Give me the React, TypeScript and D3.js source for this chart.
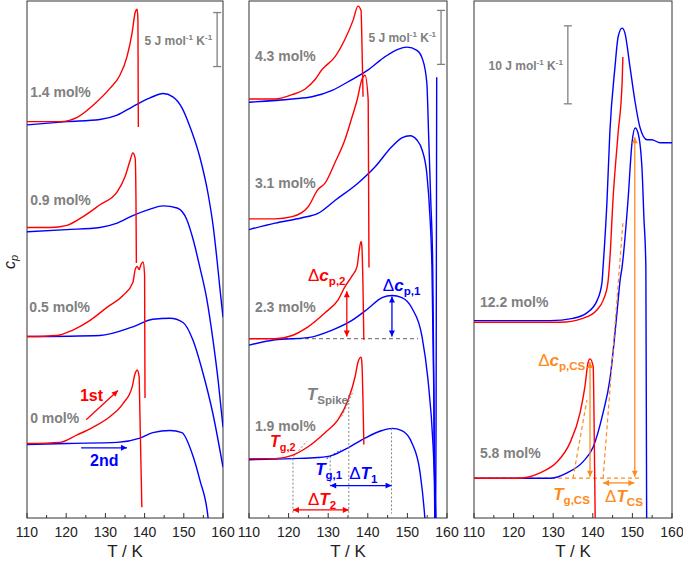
import React from 'react';
import * as d3 from 'd3';

type Pt = [number, number];

// ---------- axis ticks ----------
const majorTicks = [110, 120, 130, 140, 150, 160];
const minorTicks = [115, 125, 135, 145, 155];

// ---------- Panel 1 (cp, J mol-1 K-1, stacked) ----------
const p1Red14: Pt[] = [[110,36.7],[118.4,36.7],[122.8,37.1],[126.8,38.2],[131.2,39.8],[133.7,41.0],[135.5,42.7],[136.8,44.9],[137.6,46.8],[138.1,47.1],[138.3,46.1],[138.4,36.2]];
const p1Blue14: Pt[] = [[110,36.4],[120.2,36.7],[128.6,36.9],[133.0,37.3],[137.0,38.1],[141.4,38.9],[144.7,39.3],[147.2,39.0],[149.5,38.0],[151.6,36.2],[154.1,33.4],[156.2,30.0],[157.5,27.0],[158.5,23.8],[159.2,21.3],[160,18.6]];
const p1Red09: Pt[] = [[110,26.9],[115.9,26.9],[120.2,27.1],[124.3,27.9],[128.6,29.0],[133.0,30.2],[135.0,31.6],[136.3,33.1],[137.0,33.8],[137.6,33.3],[137.8,29.4],[137.9,23.6]];
const p1Blue09: Pt[] = [[110,26.5],[120.2,26.7],[128.6,26.9],[133.0,27.3],[137.0,28.0],[141.4,28.6],[144.7,28.9],[148.3,28.7],[150.8,27.6],[152.3,25.9],[154.1,23.2],[155.8,20.4],[157.4,16.6],[158.8,12.6],[160,8.4]];
const p1Red05: Pt[] = [[110,16.8],[117.7,16.9],[121.7,17.4],[126.1,18.3],[130.4,19.5],[134.5,20.6],[137.0,21.8],[137.6,23.0],[138.1,23.3],[138.6,23.0],[139.1,23.5],[139.6,23.7],[140.0,22.5],[140.1,11.1]];
const p1Blue05: Pt[] = [[110,16.8],[128.6,16.9],[137.0,17.7],[142.1,18.4],[146.5,18.5],[149.8,18.1],[152.3,16.5],[154.9,13.4],[157.4,9.7],[160,4.7]];
const p1Red00: Pt[] = [[110,6.9],[118.4,7.0],[122.8,7.7],[126.8,8.4],[131.2,9.4],[134.5,10.6],[136.8,12.1],[137.6,13.4],[138.1,13.7],[138.6,13.1],[138.8,9.7],[139.3,1.0]];
const p1Blue00: Pt[] = [[110,6.8],[120.2,6.9],[133.0,7.0],[138.8,7.4],[142.1,7.9],[146.5,8.1],[149.5,7.9],[152.1,6.0],[154.1,3.5],[156.2,0],[156.8,-3]];

// ---------- Panel 2 ----------
const p2Red43: Pt[] = [[110,38.8],[116.6,38.8],[120.9,39.2],[124.1,39.7],[126.7,40.6],[128.4,41.5],[129.2,41.8],[131.7,42.7],[134.2,44.3],[136.3,46.1],[137.5,47.4],[138.3,47.0],[138.5,44.3],[138.8,39.0]];
const p2Blue43: Pt[] = [[110,38.5],[120.9,38.8],[125.9,39.0],[131.0,39.6],[136.0,40.6],[140.1,41.5],[144.3,42.7],[147.6,43.4],[149.9,43.6],[152.4,43.3],[153.9,42.4],[154.9,40.3],[155.4,35.0],[155.9,29.4],[156.4,23.2],[156.7,11],[156.95,-2],[157.1,-3],[157.25,10],[157.4,40.8]];
const p2Red31: Pt[] = [[110,27.7],[116.6,27.7],[120.9,27.9],[124.9,28.8],[127.4,30.4],[129.2,31.0],[131.7,32.9],[134.2,35.0],[136.0,37.1],[137.3,38.7],[138.5,40.6],[139.3,41.0],[140.1,38.7],[140.3,23.2]];
const p2Blue31: Pt[] = [[110,26.7],[116.6,27.3],[123.4,27.8],[127.4,28.2],[131.7,29.4],[137.5,31.0],[141.8,32.5],[146.1,34.4],[148.6,35.2],[150.7,35.4],[152.4,35.0],[153.7,34.1],[154.9,31.9],[155.7,27.9],[156.2,23.2],[156.7,10.9],[157.0,-3]];
const p2Red23: Pt[] = [[110,16.6],[116.6,16.6],[120.9,16.9],[124.9,17.7],[129.2,19.0],[132.5,20.2],[134.2,21.4],[136.0,22.4],[137.3,23.3],[137.8,24.7],[138.3,25.6],[138.5,25.2],[138.8,21.1],[139.0,16.5]];
const p2Blue23: Pt[] = [[110,16.0],[116.6,16.5],[124.9,16.7],[131.0,17.4],[136.0,18.3],[140.1,19.4],[143.6,20.4],[146.1,20.6],[148.6,20.4],[151.2,19.4],[153.7,16.8],[155.2,12.8],[156.5,6.6],[157.2,0],[157.4,-3]];
const p2Red19: Pt[] = [[110,5.5],[116.6,5.5],[120.9,5.8],[124.9,6.6],[129.2,7.9],[132.5,9.1],[135.0,10.9],[136.8,13.1],[137.5,14.4],[138.3,14.9],[138.5,14.4],[139.0,6.8]];
const p2Blue19: Pt[] = [[110,5.4],[120.9,5.5],[127.4,5.6],[131.0,5.8],[135.0,6.5],[139.3,7.4],[143.6,8.1],[146.1,8.3],[148.6,8.1],[151.2,6.9],[153.2,4.2],[154.4,0],[154.9,-3]];

// ---------- Panel 3 ----------
const p3Blue122: Pt[] = [[110,25.3],[129.2,25.3],[135.0,25.6],[138.5,26.3],[141.1,27.9],[142.3,30.1],[142.6,32.2],[143.6,40.8],[144.3,49.4],[145.6,57.8],[146.4,61.7],[147.4,62.8],[148.1,62.2],[149.4,57.8],[150.6,53.6],[151.9,50.1],[153.7,48.5],[154.9,48.5],[157.0,48.1],[160,48.1]];
const p3Red122: Pt[] = [[110,25.1],[131.7,25.1],[137.5,25.6],[141.1,26.7],[142.6,27.9],[143.8,30.1],[144.3,33.1],[145.1,40.8],[146.4,49.4],[147.4,55.8],[147.6,59.1]];
const p3Red58: Pt[] = [[110,5.1],[120.9,5.1],[126.7,5.8],[131.0,7.2],[134.2,9.6],[136.8,13.5],[138.0,16.8],[138.8,19.9],[139.3,20.4],[140.1,19.4],[140.3,13.5],[140.6,0],[140.7,-3]];
const p3Blue58: Pt[] = [[110,5.1],[129.2,5.1],[133.5,5.8],[137.5,7.2],[140.1,9.1],[142.6,13.5],[144.3,17.7],[146.1,26.3],[146.9,30.5],[147.4,32.2],[148.9,40.8],[149.9,48.1],[150.7,50.0],[151.4,49.4],[152.4,45.0],[152.9,38.6],[153.4,32.2],[153.6,0],[153.7,-3]];

const FONT = "'Liberation Sans', Arial, Helvetica, sans-serif";
const RED = '#ff0000';
const BLUE = '#0000ff';
const ORANGE = '#ff8a1c';
const GRAY = '#808080';
const AX = '#333333';

const TOP = 1;
const BOT = 518;

const x1s = d3.scaleLinear().domain([110, 160]).range([27, 223]);
const x2s = d3.scaleLinear().domain([110, 160]).range([249, 447]);
const x3s = d3.scaleLinear().domain([110, 160]).range([474, 672]);
const y12 = d3.scaleLinear().domain([0, 517 / 10.8]).range([BOT, TOP]);
const y3 = d3.scaleLinear().domain([0, 517 / 7.8]).range([BOT, TOP]);

type Sc = d3.ScaleLinear<number, number>;

function pathOf(data: Pt[], x: Sc, y: Sc) {
  return d3.line<Pt>().x(d => x(d[0])).y(d => y(d[1])).curve(d3.curveMonotoneX)(data) || '';
}

function Curve({ data, x, y, color }: { data: Pt[]; x: Sc; y: Sc; color: string }) {
  return <path d={pathOf(data, x, y)} fill="none" stroke={color} strokeWidth={1.4} strokeLinejoin="round" />;
}

const markerId: Record<string, string> = { [RED]: 'ah-r', [BLUE]: 'ah-b', [ORANGE]: 'ah-o' };

function Arrow({ xa, ya, xb, yb, color, both = true }: { xa: number; ya: number; xb: number; yb: number; color: string; both?: boolean }) {
  return (
    <line x1={xa} y1={ya} x2={xb} y2={yb} stroke={color} strokeWidth={1.3}
      markerEnd={`url(#${markerId[color]})`} markerStart={both ? `url(#${markerId[color]})` : undefined} />
  );
}

function Frame({ x, clip }: { x: Sc; clip: string }) {
  const [a, b] = x.range();
  return (
    <g>
      <clipPath id={clip}><rect x={a} y={TOP} width={b - a} height={BOT - TOP} /></clipPath>
      <rect x={a} y={TOP} width={b - a} height={BOT - TOP} fill="none" stroke={AX} strokeWidth={1} />
      {majorTicks.map(t => <line key={'M' + t} x1={x(t)} x2={x(t)} y1={BOT} y2={BOT - 5} stroke={AX} strokeWidth={1} />)}
      {minorTicks.map(t => <line key={'m' + t} x1={x(t)} x2={x(t)} y1={BOT} y2={BOT - 3} stroke={AX} strokeWidth={1} />)}
      {majorTicks.map(t => (
        <text key={'l' + t} x={x(t)} y={537} textAnchor="middle" fontSize={14} fill="#222" fontFamily={FONT}>{t}</text>
      ))}
      <text x={(a + b) / 2} y={557} textAnchor="middle" fontSize={17} fill="#222" fontFamily={FONT}>T / K</text>
    </g>
  );
}

function ScaleBar({ x, y, t, lo, hi, label }: { x: Sc; y: Sc; t: number; lo: number; hi: number; label: string }) {
  const px = x(t);
  return (
    <g stroke={GRAY} strokeWidth={1.3}>
      <line x1={px} x2={px} y1={y(lo)} y2={y(hi)} />
      <line x1={px - 4} x2={px + 4} y1={y(lo)} y2={y(lo)} />
      <line x1={px - 4} x2={px + 4} y1={y(hi)} y2={y(hi)} />
      <text x={px - 5} y={(y(lo) + y(hi)) / 2 + 5} textAnchor="end" fontSize={12} fontWeight="bold" fill={GRAY} stroke="none" fontFamily={FONT}>
        {label} J mol<tspan dy={-5} fontSize={8}>-1</tspan><tspan dy={5}> K</tspan><tspan dy={-5} fontSize={8}>-1</tspan>
      </text>
    </g>
  );
}

function Label({ x, y, t, c, text }: { x: Sc; y: Sc; t: number; c: number; text: string }) {
  return <text x={x(t)} y={y(c)} fontSize={14} fontWeight="bold" fill={GRAY} fontFamily={FONT}>{text}</text>;
}

function Sym({ px, py, main, sub, color, delta = false, size = 17 }: { px: number; py: number; main: string; sub: string; color: string; delta?: boolean; size?: number }) {
  return (
    <text x={px} y={py} fontSize={size} fontWeight="bold" fill={color} fontFamily={FONT}>
      {delta ? <tspan fontWeight="normal">Δ</tspan> : null}
      <tspan fontStyle="italic">{main}</tspan>
      <tspan dy={4} fontSize={size * 0.68}>{sub}</tspan>
    </text>
  );
}

export default function App() {
  const dashGray = { stroke: GRAY, strokeWidth: 1, strokeDasharray: '2,2', fill: 'none' } as const;
  return (
    <svg width={683} height={563} style={{ position: 'absolute', left: 0, top: 0, background: '#fff' }} fontFamily={FONT}>
      <defs>
        {[RED, BLUE, ORANGE].map(c => (
          <marker key={c} id={markerId[c]} viewBox="0 0 10 10" refX={10} refY={5} markerWidth={7} markerHeight={6}
            markerUnits="userSpaceOnUse" orient="auto-start-reverse">
            <path d="M0,0 L10,5 L0,10 z" fill={c} />
          </marker>
        ))}
      </defs>

      {/* c_p axis label */}
      <text transform="translate(15,262) rotate(-90)" textAnchor="middle" fontSize={16} fontStyle="italic" fill="#222" fontFamily={FONT}>
        c<tspan dy={3} fontSize={11}>p</tspan>
      </text>

      {/* ---------------- Panel 1 ---------------- */}
      <Frame x={x1s} clip="c1" />
      <g clipPath="url(#c1)">
        <Curve data={p1Blue14} x={x1s} y={y12} color={BLUE} />
        <Curve data={p1Red14} x={x1s} y={y12} color={RED} />
        <Curve data={p1Blue09} x={x1s} y={y12} color={BLUE} />
        <Curve data={p1Red09} x={x1s} y={y12} color={RED} />
        <Curve data={p1Blue05} x={x1s} y={y12} color={BLUE} />
        <Curve data={p1Red05} x={x1s} y={y12} color={RED} />
        <Curve data={p1Blue00} x={x1s} y={y12} color={BLUE} />
        <Curve data={p1Red00} x={x1s} y={y12} color={RED} />
      </g>
      <ScaleBar x={x1s} y={y12} t={158.5} lo={41.8} hi={46.8} label="5" />
      <Label x={x1s} y={y12} t={110.8} c={39.0} text="1.4 mol%" />
      <Label x={x1s} y={y12} t={110.8} c={29.0} text="0.9 mol%" />
      <Label x={x1s} y={y12} t={110.6} c={19.1} text="0.5 mol%" />
      <Label x={x1s} y={y12} t={110.8} c={8.8} text="0 mol%" />
      <text x={x1s(123.5)} y={y12(10.8)} fontSize={16} fontWeight="bold" fill={RED} fontFamily={FONT}>1st</text>
      <Arrow xa={x1s(125.1)} ya={y12(9.1)} xb={x1s(133.2)} yb={y12(11.8)} color={RED} both={false} />
      <text x={x1s(126.1)} y={y12(4.8)} fontSize={16} fontWeight="bold" fill={BLUE} fontFamily={FONT}>2nd</text>
      <Arrow xa={x1s(123.8)} ya={y12(6.5)} xb={x1s(135.5)} yb={y12(6.5)} color={BLUE} both={false} />

      {/* ---------------- Panel 2 ---------------- */}
      <Frame x={x2s} clip="c2" />
      <g clipPath="url(#c2)">
        <line x1={x2s(110)} x2={x2s(152.7)} y1={y12(16.6)} y2={y12(16.6)} stroke={GRAY} strokeWidth={1.2} strokeDasharray="4,3" />
        <Curve data={p2Blue43} x={x2s} y={y12} color={BLUE} />
        <Curve data={p2Red43} x={x2s} y={y12} color={RED} />
        <Curve data={p2Blue31} x={x2s} y={y12} color={BLUE} />
        <Curve data={p2Red31} x={x2s} y={y12} color={RED} />
        <Curve data={p2Blue23} x={x2s} y={y12} color={BLUE} />
        <Curve data={p2Red23} x={x2s} y={y12} color={RED} />
        <Curve data={p2Blue19} x={x2s} y={y12} color={BLUE} />
        <Curve data={p2Red19} x={x2s} y={y12} color={RED} />
        {/* construction lines */}
        <line x1={x2s(121.1)} x2={x2s(121.1)} y1={y12(5.5)} y2={y12(0.4)} {...dashGray} />
        <line x1={x2s(130.5)} x2={x2s(130.5)} y1={y12(5.7)} y2={y12(3.0)} {...dashGray} />
        <line x1={x2s(135.2)} x2={x2s(135.2)} y1={y12(11.4)} y2={y12(0.4)} {...dashGray} />
        <line x1={x2s(146.0)} x2={x2s(146.0)} y1={y12(8.3)} y2={y12(0.4)} {...dashGray} />
        <line x1={x2s(120.5)} x2={x2s(124.6)} y1={y12(5.4)} y2={y12(7.1)} {...dashGray} />
        <line x1={x2s(133.4)} x2={x2s(136.4)} y1={y12(9.4)} y2={y12(11.8)} {...dashGray} />
        <line x1={x2s(129.6)} x2={x2s(133.2)} y1={y12(5.5)} y2={y12(6.3)} stroke={BLUE} strokeWidth={1} strokeDasharray="2,2" />
      </g>
      <Arrow xa={x2s(134.7)} ya={y12(21.0)} xb={x2s(134.7)} yb={y12(16.8)} color={RED} />
      <Arrow xa={x2s(146.1)} ya={y12(20.5)} xb={x2s(146.1)} yb={y12(16.8)} color={BLUE} />
      <Arrow xa={x2s(130.5)} ya={y12(3.0)} xb={x2s(146.0)} yb={y12(3.0)} color={BLUE} />
      <Arrow xa={x2s(121.1)} ya={y12(0.75)} xb={x2s(135.2)} yb={y12(0.75)} color={RED} />
      <ScaleBar x={x2s} y={y12} t={158.5} lo={42.0} hi={47.0} label="5" />
      <Label x={x2s} y={y12} t={111.5} c={42.3} text="4.3 mol%" />
      <Label x={x2s} y={y12} t={111.5} c={30.6} text="3.1 mol%" />
      <Label x={x2s} y={y12} t={111.5} c={19.1} text="2.3 mol%" />
      <Label x={x2s} y={y12} t={111.5} c={8.1} text="1.9 mol%" />
      <Sym px={x2s(124.6)} py={y12(10.9)} main="T" sub="Spike" color={GRAY} />
      <Sym px={x2s(115.3)} py={y12(6.55)} main="T" sub="g,2" color={RED} size={16} />
      <Sym px={x2s(126.7)} py={y12(4.0)} main="T" sub="g,1" color={BLUE} />
      <Sym px={x2s(135.3)} py={y12(3.6)} main="T" sub="1" color={BLUE} delta />
      <Sym px={x2s(124.9)} py={y12(1.2)} main="T" sub="2" color={RED} delta />
      <Sym px={x2s(124.9)} py={y12(21.9)} main="c" sub="p,2" color={RED} delta />
      <Sym px={x2s(143.8)} py={y12(21.0)} main="c" sub="p,1" color={BLUE} delta />

      {/* ---------------- Panel 3 ---------------- */}
      <Frame x={x3s} clip="c3" />
      <g clipPath="url(#c3)">
        <Curve data={p3Blue122} x={x3s} y={y3} color={BLUE} />
        <Curve data={p3Red122} x={x3s} y={y3} color={RED} />
        <line x1={x3s(110)} x2={x3s(152.4)} y1={y3(5.1)} y2={y3(5.1)} stroke={ORANGE} strokeWidth={1.2} strokeDasharray="4,3" />
        <Curve data={p3Blue58} x={x3s} y={y3} color={BLUE} />
        <Curve data={p3Red58} x={x3s} y={y3} color={RED} />
        <line x1={x3s(135.0)} x2={x3s(138.5)} y1={y3(5.1)} y2={y3(15.1)} stroke={ORANGE} strokeWidth={1.2} strokeDasharray="4,3" />
        <line x1={x3s(142.6)} x2={x3s(147.6)} y1={y3(5.1)} y2={y3(37.8)} stroke={ORANGE} strokeWidth={1.2} strokeDasharray="4,3" />
      </g>
      <Arrow xa={x3s(139.3)} ya={y3(20.0)} xb={x3s(139.3)} yb={y3(5.3)} color={ORANGE} />
      <Arrow xa={x3s(150.6)} ya={y3(48.8)} xb={x3s(150.6)} yb={y3(5.3)} color={ORANGE} />
      <Arrow xa={x3s(142.6)} ya={y3(4.5)} xb={x3s(150.5)} yb={y3(4.5)} color={ORANGE} />
      <ScaleBar x={x3s} y={y3} t={133.7} lo={53.1} hi={63.1} label="10" />
      <Label x={x3s} y={y3} t={111.5} c={27.1} text="12.2 mol%" />
      <Label x={x3s} y={y3} t={111.5} c={7.7} text="5.8 mol%" />
      <Sym px={x3s(126.2)} py={y3(19.5)} main="c" sub="p,CS" color={ORANGE} delta />
      <Sym px={x3s(130.0)} py={y3(2.3)} main="T" sub="g,CS" color={ORANGE} />
      <Sym px={x3s(143.1)} py={y3(2.05)} main="T" sub="CS" color={ORANGE} delta />
    </svg>
  );
}
